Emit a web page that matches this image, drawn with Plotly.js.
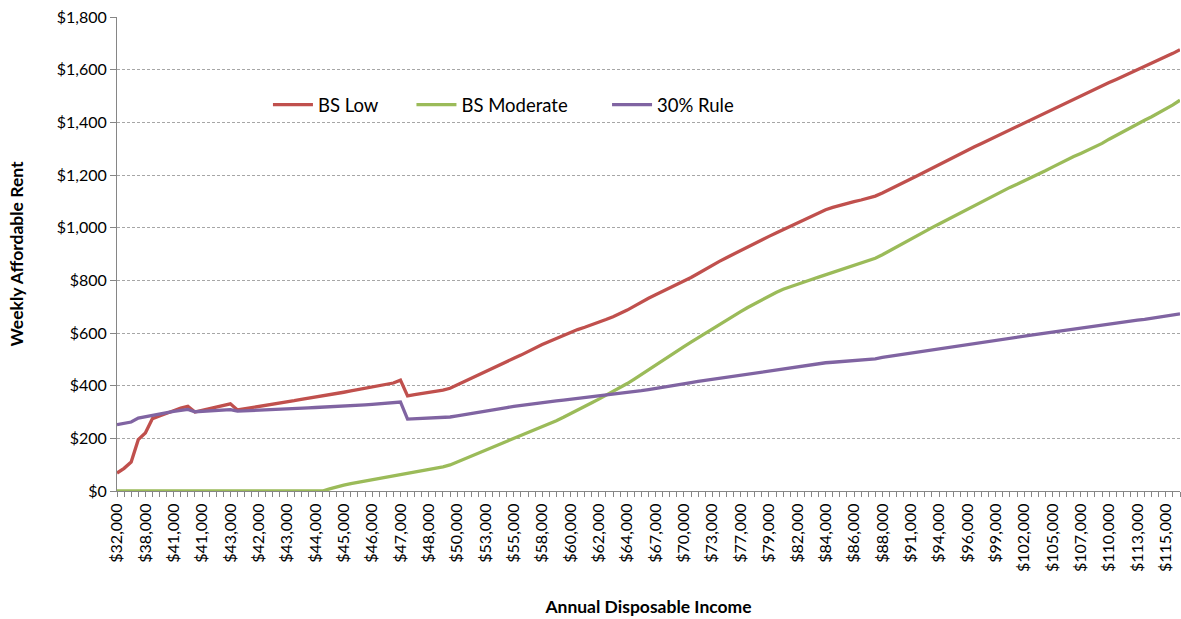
<!DOCTYPE html>
<html><head><meta charset="utf-8">
<script src="https://cdn.plot.ly/plotly-3.0.1.min.js"></script>
<style>html,body{margin:0;padding:0;background:#fff}#chart{width:1181px;height:619px}</style>
</head><body><div id="chart"></div>
<script>
const tickLabels = ["$32,000","$38,000","$41,000","$41,000","$43,000","$42,000","$43,000","$44,000","$45,000","$46,000","$47,000","$48,000","$50,000","$53,000","$55,000","$58,000","$60,000","$62,000","$64,000","$67,000","$70,000","$73,000","$77,000","$79,000","$82,000","$84,000","$86,000","$88,000","$91,000","$94,000","$96,000","$99,000","$102,000","$105,000","$107,000","$110,000","$113,000","$115,000"];

const bsLow = [68,86,110,195,220,275,285,296,306,315,322,300,306,312,318,325,331,308,312,317,321,326,330,334,338,343,348,352,357,362,366,370,375,380,385,390,395,400,405,410,421,361,366,370,374,378,383,390,403,416,428,440,453,466,478,492,504,516,530,543,556,568,580,592,603,613,622,631,641,651,662,674,687,702,718,732,745,758,770,782,796,811,826,842,858,872,886,900,914,928,941,954,967,980,993,1006,1018,1031,1045,1058,1068,1077,1085,1092,1099,1105,1112,1120,1132,1146,1159,1172,1185,1198,1212,1226,1240,1254,1268,1281,1294,1307,1320,1333,1346,1359,1372,1385,1398,1410,1423,1436,1450,1463,1476,1488,1500,1513,1526,1539,1551,1563,1575,1587,1599,1611,1624,1637,1649,1662,1676];

const bsModerate = [0,0,0,0,0,0,0,0,0,0,0,0,0,0,0,0,0,0,0,0,0,0,0,0,0,0,0,0,0,0,8,16,22,28,33,38,43,47,52,56,60,66,71,76,82,87,92,99,110,122,134,146,157,168,179,190,200,210,220,231,243,255,267,280,293,307,321,335,349,363,378,393,408,425,443,461,479,497,514,531,548,565,582,599,616,633,650,666,681,697,712,727,741,754,766,776,785,794,803,812,821,830,838,847,856,865,874,884,897,912,928,943,958,972,986,1000,1014,1028,1042,1057,1071,1085,1099,1113,1127,1141,1153,1165,1177,1189,1202,1216,1230,1244,1258,1270,1282,1294,1307,1320,1336,1351,1366,1381,1395,1408,1421,1435,1450,1466,1484];

const thirtyPctRule = [252,257,262,277,282,290,295,298,302,306,310,301,303,305,306,307,309,303,304,305,306,308,310,311,313,314,315,316,317,318,320,321,322,324,325,327,329,331,333,335,338,273,274,275,276,277,278,281,285,290,295,300,304,309,313,317,321,325,329,332,335,338,342,345,348,352,355,358,362,365,367,369,372,376,381,385,390,395,400,404,408,412,416,420,424,428,432,436,440,444,449,453,457,461,464,468,472,476,480,484,487,489,491,493,495,497,499,502,507,511,515,519,523,527,531,535,539,542,546,549,553,557,562,567,572,576,580,584,588,592,596,600,604,607,611,615,619,623,627,631,634,637,641,645,649,652,656,660,664,668,673];

const seriesNames = ["BS Low", "BS Moderate", "30% Rule"];
const seriesColors = ["#C0504D", "#9BBB59", "#8064A2"];
const labelEvery = 4;

const idx = bsLow.map((_, i) => i);
const tickPos = tickLabels.map((_, k) => k * labelEvery);
const FONT = "Lato, 'Open Sans', sans-serif";

const traces = [bsLow, bsModerate, thirtyPctRule].map((vals, k) => ({
  x: idx, y: vals, type: 'scatter', mode: 'lines', name: seriesNames[k],
  line: {color: seriesColors[k], width: 3.3},
  legend: k === 0 ? 'legend' : 'legend' + (k + 1),
  hoverinfo: 'skip'
}));

const legBase = {orientation: 'h', xanchor: 'left', yanchor: 'middle', y: 0.814,
  font: {family: FONT, size: 18.5, color: '#000'}, bgcolor: 'rgba(0,0,0,0)', itemwidth: 40, borderwidth: 0};

const layout = {
  width: 1181, height: 619,
  margin: {l: 117, r: 1, t: 17, b: 128},
  paper_bgcolor: '#fff', plot_bgcolor: '#fff',
  font: {family: FONT, size: 16, color: '#000'},
  showlegend: true,
  hovermode: false,
  legend: Object.assign({}, legBase, {x: 0.142}),
  legend2: Object.assign({}, legBase, {x: 0.277}),
  legend3: Object.assign({}, legBase, {x: 0.461}),
  xaxis: {
    range: [0, bsLow.length - 1],
    tickmode: 'array', tickvals: tickPos, ticktext: tickLabels,
    tickangle: -90,
    tickfont: {family: FONT, size: 16, color: '#000'},
    ticks: 'outside', ticklen: 5, tickcolor: '#868686',
    minor: {tickmode: 'linear', dtick: 1, ticks: 'outside', ticklen: 5, tickcolor: '#868686', showgrid: false},
    showline: true, linecolor: '#868686', linewidth: 1,
    showgrid: false, zeroline: false, automargin: false,
    title: {text: 'Annual Disposable Income', font: {family: FONT, size: 17.5, weight: 'bold', color: '#000'}, standoff: 29}
  },
  yaxis: {
    range: [0, 1800], dtick: 200, tick0: 0,
    tickprefix: '$', tickformat: ',d',
    tickfont: {family: FONT, size: 16, color: '#000'},
    ticks: 'outside', ticklen: 6, tickcolor: '#868686',
    showline: true, linecolor: '#868686', linewidth: 1,
    showgrid: true, gridcolor: '#a6a6a6', gridwidth: 1, griddash: '3px,2px',
    zeroline: false, automargin: false,
    title: {text: 'Weekly Affordable Rent', font: {family: FONT, size: 17.5, weight: 'bold', color: '#000'}, standoff: 28}
  }
};

Plotly.newPlot('chart', traces, layout, {staticPlot: true, displayModeBar: false});
</script>
</body></html>
